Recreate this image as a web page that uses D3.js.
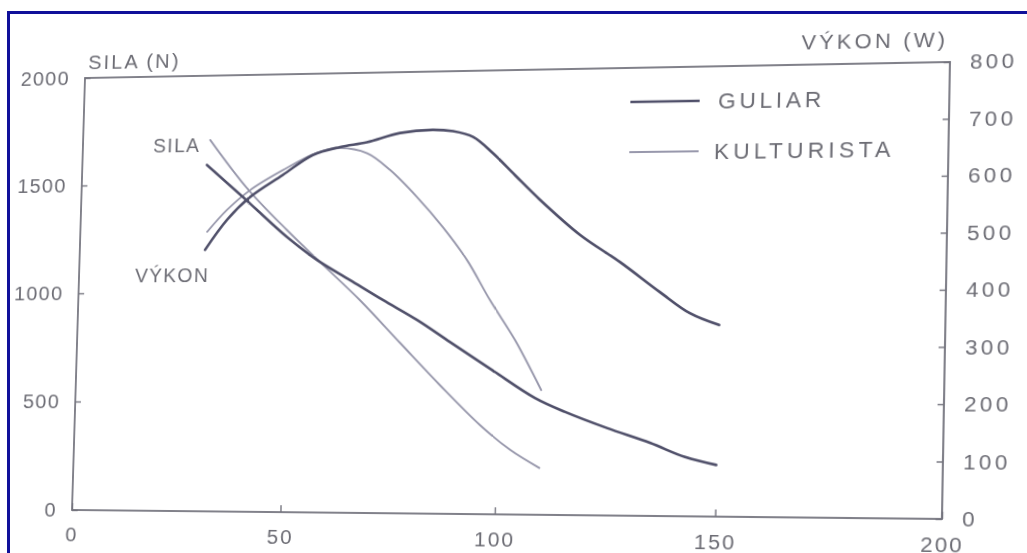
<!DOCTYPE html>
<html><head><meta charset="utf-8">
<script src="https://cdnjs.cloudflare.com/ajax/libs/d3/7.8.5/d3.min.js"></script>
<style>
html,body{margin:0;padding:0;background:#fff;overflow:hidden;width:1027px;height:553px;}
#wrap{position:absolute;left:0;top:0;width:1027px;height:553px;transform-origin:0 0;}
#frame{position:absolute;left:0;top:0;}
text{font-family:"Liberation Sans",Arial,Helvetica,sans-serif;fill:#6c6c74;}
</style></head><body>
<div id="wrap"></div>
<svg id="frame" width="1027" height="553"></svg>
<script>
// ---- data ----
const xTicks = [0, 50, 100, 150, 200];
const silaTicks = [0, 500, 1000, 1500, 2000];
const vykonTicks = [0, 100, 200, 300, 400, 500, 600, 700, 800];
const seriesNames = ["GULIAR", "KULTURISTA"];

const guliarSilaX = [30.2, 39.0, 42.5, 49.8, 57.1, 65.0, 72.8, 80.9, 88.7, 98.6, 108.6, 115.6, 125.2, 135.0, 143.0, 150];
const guliarSila  = [1588, 1439, 1378, 1253, 1147, 1055, 964, 873, 773, 647, 522, 460, 389, 324, 262, 228];

const guliarVykonX = [30.3, 35.4, 40.7, 48.4, 55.4, 61.8, 68.1, 75.8, 83.5, 88.2, 92.9, 97.6, 102.8, 108.7, 118.1, 127.3, 136.5, 143.4, 150];
const guliarVykon  = [479, 534, 575, 615, 651, 665, 673, 689, 694, 691, 680, 650, 610, 565, 501, 452, 398, 360, 339];

const kultSilaX = [30.8, 39.9, 49.7, 57.8, 67.4, 77.1, 86.6, 96.1, 103.2, 110];
const kultSila  = [1703, 1480, 1286, 1138, 964, 769, 579, 400, 289, 209];

const kultVykonX = [30.7, 35.3, 40.7, 48.4, 56.4, 61.8, 68.2, 73.7, 80.2, 86.4, 92.2, 97.7, 103.7, 110];
const kultVykon  = [512, 552, 588, 624, 655, 663, 653, 622, 572, 517, 457, 385, 313, 223];

const annotations = [
  {text: "SILA", x: 17.1, y: 1647},
  {text: "VÝKON", x: 13.6, y: 1051}
];

// ---- layout ----
const W = 1027, H = 553;
const L = 80, T = 70, R = 946, B = 514;
const DARK = "#50506a", LIGHT = "#9898ac", AXIS = "#74747e";

const x = d3.scaleLinear().domain([0, 200]).range([L, R]);
const ySila = d3.scaleLinear().domain([0, 2000]).range([B, T]);
const yVykon = d3.scaleLinear().domain([0, 800]).range([B, T]);
const fmt = d3.format("d");

const svg = d3.select("#wrap").append("svg").attr("width", W).attr("height", H);

// axes
const gl = svg.append("g").attr("transform", `translate(${L},0)`)
  .call(d3.axisLeft(ySila).tickValues(silaTicks).tickFormat(fmt).tickSizeInner(-6).tickSizeOuter(0).tickPadding(16));
const gr = svg.append("g").attr("transform", `translate(${R},0)`)
  .call(d3.axisRight(yVykon).tickValues(vykonTicks).tickFormat(fmt).tickSizeInner(-6).tickSizeOuter(0).tickPadding(19));
const gb = svg.append("g").attr("transform", `translate(0,${B})`)
  .call(d3.axisBottom(x).tickValues(xTicks).tickFormat(fmt).tickSizeInner(-7).tickSizeOuter(0).tickPadding(17));
[gl, gr, gb].forEach(g => {
  g.select(".domain").remove();
  g.selectAll(".tick line").attr("stroke", AXIS).attr("stroke-width", 1.4);
  g.selectAll(".tick text").attr("font-size", 21).attr("fill", "#6c6c74")
    .attr("font-family", '"Liberation Sans",Arial,sans-serif');
});
gl.selectAll(".tick text").attr("letter-spacing", 1.4);
gr.selectAll(".tick text").attr("letter-spacing", 3.2);
gb.selectAll(".tick text").attr("letter-spacing", 2);

// plot frame
svg.append("rect").attr("x", L).attr("y", T).attr("width", R - L).attr("height", B - T)
  .attr("fill", "none").attr("stroke", AXIS).attr("stroke-width", 1.8);

// axis titles
svg.append("text").attr("x", L + 3).attr("y", T - 9).attr("font-size", 21)
  .attr("textLength", 95).attr("lengthAdjust", "spacing").text("SILA (N)");
svg.append("text").attr("x", R - 2).attr("y", T - 15).attr("font-size", 21)
  .attr("text-anchor", "end").attr("letter-spacing", 3).text("VÝKON (W)");

// curves
const mk = (xs, ys, sc) => xs.map((v, i) => [x(v), sc(ys[i])]);
const line = d3.line().curve(d3.curveCatmullRom.alpha(0.5));
const curves = [
  {pts: mk(kultSilaX, kultSila, ySila), color: LIGHT, w: 1.9},
  {pts: mk(kultVykonX, kultVykon, yVykon), color: LIGHT, w: 1.9},
  {pts: mk(guliarSilaX, guliarSila, ySila), color: DARK, w: 2.6},
  {pts: mk(guliarVykonX, guliarVykon, yVykon), color: DARK, w: 2.6}
];
svg.selectAll("path.curve").data(curves).join("path").attr("class", "curve")
  .attr("d", d => line(d.pts)).attr("fill", "none")
  .attr("stroke", d => d.color).attr("stroke-width", d => d.w)
  .attr("stroke-linecap", "round");

// annotations
svg.selectAll("text.ann").data(annotations).join("text").attr("class", "ann")
  .attr("x", d => x(d.x)).attr("y", d => ySila(d.y))
  .attr("font-size", 20).attr("letter-spacing", 1.5).text(d => d.text);

// legend
const legW = [100, 170];
const leg = svg.append("g").attr("transform", `translate(${L + 558},${T + 34})`);
seriesNames.forEach((n, i) => {
  const g = leg.append("g").attr("transform", `translate(0,${i * 50})`);
  g.append("line").attr("x1", 0).attr("x2", 68).attr("y1", 0).attr("y2", 0)
    .attr("stroke", i === 0 ? DARK : LIGHT).attr("stroke-width", i === 0 ? 2.6 : 1.9);
  g.append("text").attr("x", 86 - i * 3).attr("y", 0).attr("dy", "0.36em").attr("font-size", 22)
    .attr("textLength", legW[i]).attr("lengthAdjust", "spacing").text(n);
});

// ---- perspective of the scanned page ----
function squareToQuad(q) {
  const [x0, y0] = q[0], [x1, y1] = q[1], [x2, y2] = q[2], [x3, y3] = q[3];
  const sx = x0 - x1 + x2 - x3, sy = y0 - y1 + y2 - y3;
  const dx1 = x1 - x2, dx2 = x3 - x2, dy1 = y1 - y2, dy2 = y3 - y2;
  const den = dx1 * dy2 - dx2 * dy1;
  const g = (sx * dy2 - dx2 * sy) / den, h = (dx1 * sy - sx * dy1) / den;
  return [[x1 - x0 + g * x1, x3 - x0 + h * x3, x0],
          [y1 - y0 + g * y1, y3 - y0 + h * y3, y0],
          [g, h, 1]];
}
function mul(A, Bm) {
  return A.map(r => [0, 1, 2].map(j => r[0] * Bm[0][j] + r[1] * Bm[1][j] + r[2] * Bm[2][j]));
}
const Hq = squareToQuad([[85, 78], [950, 62], [942, 519], [72, 510]]);
const S = [[1 / (R - L), 0, -L / (R - L)], [0, 1 / (B - T), -T / (B - T)], [0, 0, 1]];
const M = mul(Hq, S);
document.getElementById("wrap").style.transform =
  `matrix3d(${M[0][0]},${M[1][0]},0,${M[2][0]},${M[0][1]},${M[1][1]},0,${M[2][1]},0,0,1,0,${M[0][2]},${M[1][2]},0,${M[2][2]})`;

// blue page border
d3.select("#frame").append("path").attr("d", "M8.5,553V12.5H1027")
  .attr("fill", "none").attr("stroke", "#10109a").attr("stroke-width", 3);
</script>
</body></html>
